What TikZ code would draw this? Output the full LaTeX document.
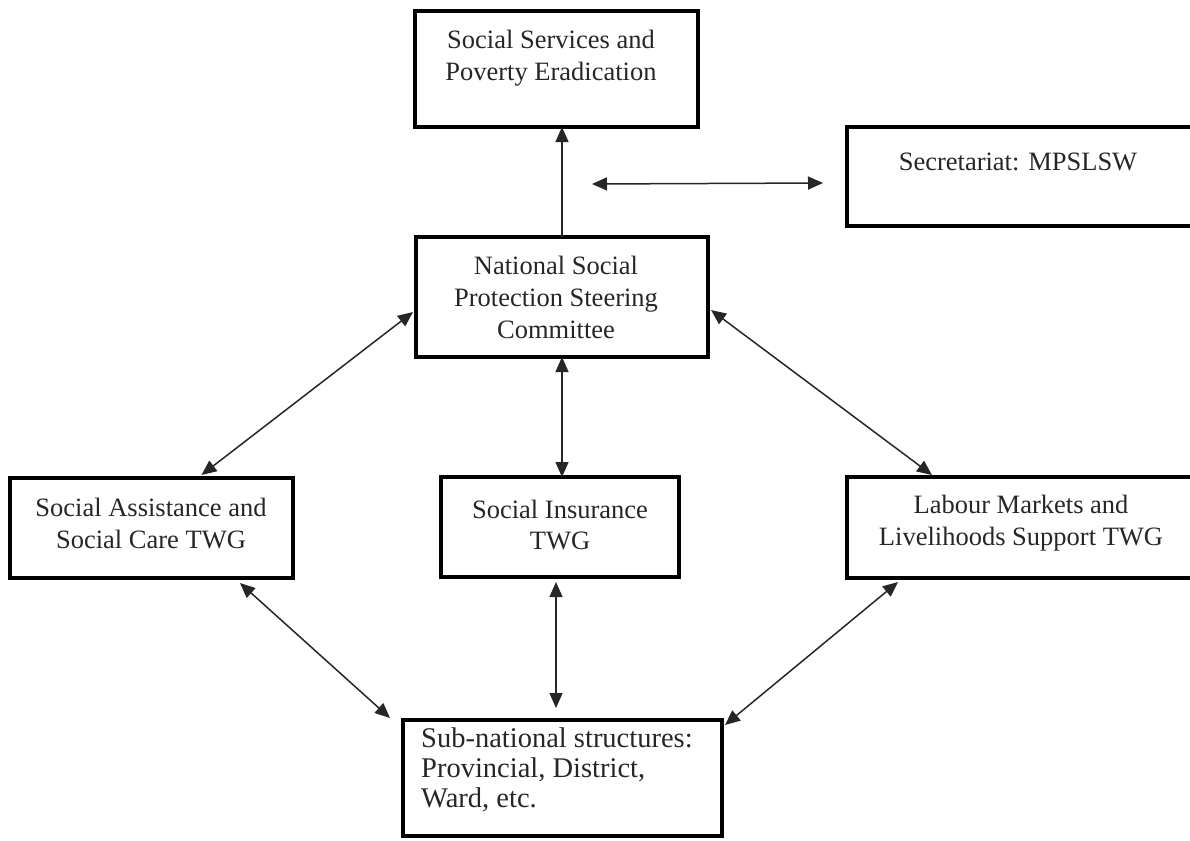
\documentclass[tikz,border=0pt]{standalone}
\usepackage{fontspec}
\setmainfont{Liberation Serif}
\usetikzlibrary{arrows.meta}
\tikzset{
  box/.style={draw=black, line width=4.5pt, rectangle, inner sep=0pt, outer sep=0pt},
  txt/.style={align=center, inner sep=0pt, font=\fontsize{26.5}{32}\selectfont, text=black!85},
  conn/.style={line width=1.5pt, draw=black!85, -{Triangle[length=15pt,width=13pt]}},
  dbl/.style={line width=1.5pt, draw=black!85, {Triangle[length=15pt,width=13pt]}-{Triangle[length=15pt,width=13pt]}}
}
\begin{document}
\begin{tikzpicture}[x=1pt,y=1pt]
\useasboundingbox (0,0) rectangle (1190,-840);
\clip (0,0) rectangle (1190,-840);
% boxes
\node[box, minimum width=283pt, minimum height=116pt] (ss) at (556.5,-69) {};
\node[box, minimum width=348pt, minimum height=99pt] (sec) at (1021,-176.5) {};
\node[box, minimum width=292pt, minimum height=120pt] (nspsc) at (562,-297) {};
\node[box, minimum width=283pt, minimum height=100pt] (sa) at (151.5,-528) {};
\node[box, minimum width=238pt, minimum height=100pt] (si) at (560,-527) {};
\node[box, minimum width=348pt, minimum height=101pt] (lab) at (1021,-527.5) {};
\node[box, minimum width=319pt, minimum height=116pt] (sub) at (562.5,-778) {};
% texts
\node[txt] (ssT) at (551,-58) {Social Services and\\Poverty Eradication};
\node[txt] (secT) at (1018,-162) {Secretariat: MPSLSW};
\node[txt] (nspscT) at (556,-297) {National Social\\Protection Steering\\Committee};
\node[txt] (saT) at (151,-523) {Social Assistance and\\Social Care TWG};
\node[txt] (siT) at (560,-525) {Social Insurance\\TWG};
\node[txt] (labT) at (1021,-523) {Labour Markets and\\Livelihoods Support TWG};
\node[txt, align=left, anchor=west, font=\fontsize{28.5}{30}\selectfont] (subT) at (421,-770) {Sub-national structures:\\Provincial, District,\\Ward, etc.};
% connectors
\coordinate (secL) at (592,-184);
\draw[conn] (nspsc.north) -- (nspsc.north |- ss.south);
\draw[dbl] (secL) -- ([xshift=-24pt,yshift=-6.5pt]sec.west);
\draw[dbl] ([xshift=-3pt,yshift=-15pt]nspsc.west) -- ([xshift=50pt,yshift=3pt]sa.north);
\draw[dbl] (nspsc.south) -- (nspsc.south |- si.north);
\draw[dbl] ([xshift=3pt,yshift=-13pt]nspsc.east) -- ([xshift=-89pt,yshift=2pt]lab.north);
\draw[dbl] ([xshift=88.5pt,yshift=-5pt]sa.south) -- ([xshift=-13pt,yshift=2pt]sub.north west);
\draw[dbl] ([xshift=-4pt,yshift=-5pt]si.south) -- ([xshift=-6.5pt,yshift=12pt]sub.north);
\draw[dbl] ([xshift=-123pt,yshift=-4pt]lab.south) -- ([xshift=3pt,yshift=-5pt]sub.north east);
\end{tikzpicture}
\end{document}
